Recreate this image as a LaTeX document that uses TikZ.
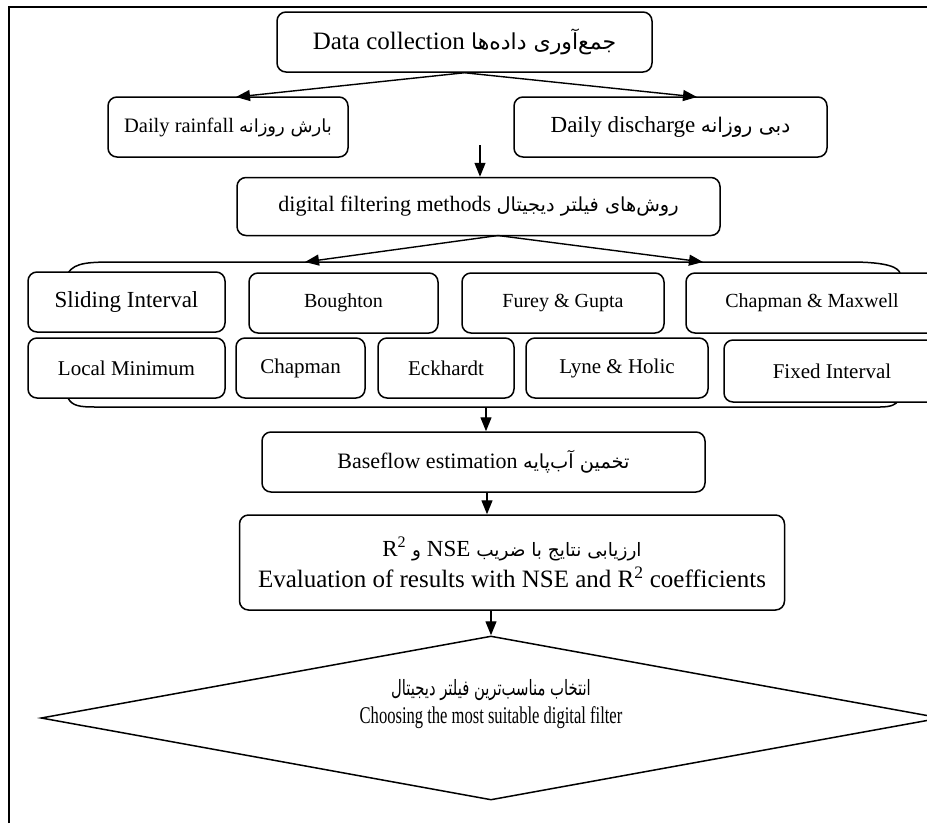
\documentclass[tikz,border=0pt]{standalone}
\usepackage{fontspec}
\usepackage{graphicx}
\setmainfont{Liberation Serif}
\newfontfamily\fa[Script=Arabic,Scale=0.88]{DejaVu Sans}
\TeXXeTstate=1
\usetikzlibrary{shapes.geometric,arrows.meta,calc}
\begin{document}
\begin{tikzpicture}[x=1pt,y=-1pt,
  box/.style={draw, line width=1.5pt, rounded corners=9pt, fill=white, inner sep=2pt, align=center},
  arr/.style={line width=1.4pt, -{Triangle[length=14pt,width=11pt]}},
  frame/.style={line width=1.8pt},
  cont/.style={line width=1.5pt},
]
\useasboundingbox (0,0) rectangle (927,823);
% frame
\draw[frame] (9,823) -- (9,7) -- (927,7);

% top boxes
\node[box, minimum width=375pt, minimum height=60pt, font=\fontsize{25}{29}\selectfont] (dc) at (464.5,42)
  {Data collection {\fa\beginR جمع‌آوری داده‌ها\endR}};
\node[box, minimum width=240pt, minimum height=60pt, font=\fontsize{20.5}{24}\selectfont] (rain) at (228,127)
  {Daily rainfall {\fa\beginR بارش روزانه\endR}};
\node[box, minimum width=313pt, minimum height=60pt, font=\fontsize{23}{27}\selectfont] (dis) at (670.5,127)
  {Daily discharge {\fa\beginR دبی روزانه\endR}};
\coordinate (raintip) at (236,97);
\coordinate (distip) at (697,97);
\draw[arr] (dc.south) -- (raintip);
\draw[arr] (dc.south) -- (distip);

\node[box, minimum width=483pt, minimum height=58pt, font=\fontsize{22}{26}\selectfont] (dig) at (478.5,206.5)
  {digital filtering methods {\fa\beginR روش‌های فیلتر دیجیتال\endR}};
\coordinate (smallstart) at (480,145);
\draw[arr] (smallstart) -- (smallstart |- dig.north);

% container
\coordinate (ctl) at (68,273);
\coordinate (ctr) at (900,273);
\coordinate (cbl) at (68,398);
\coordinate (cbr) at (898,401);
\draw[cont] (ctl) .. controls (75,262) and (90,262) .. (120,262) -- (850,262) .. controls (890,262) and (898,268) .. (ctr);
\draw[cont] (cbl) .. controls (72,406) and (80,407) .. (95,407) -- (880,407) .. controls (892,407) and (896,404) .. (cbr);

\coordinate (dsplit) at (498,235.5);
\coordinate (ltip) at (305,262);
\coordinate (rtip) at (703,262);
\draw[arr] (dsplit) -- (ltip);
\draw[arr] (dsplit) -- (rtip);

% methods row 1
\node[box, minimum width=197pt, minimum height=60pt, font=\fontsize{23}{27}\selectfont] (m1) at (126.5,302) {Sliding Interval};
\node[box, minimum width=189pt, minimum height=60pt, font=\fontsize{20}{24}\selectfont] (m2) at (343.5,303) {Boughton};
\node[box, minimum width=202pt, minimum height=60pt, font=\fontsize{20}{24}\selectfont] (m3) at (563,303) {Furey \& Gupta};
\node[box, minimum width=252pt, minimum height=60pt, font=\fontsize{20}{24}\selectfont] (m4) at (812,303) {Chapman \& Maxwell};
% methods row 2
\node[box, minimum width=197pt, minimum height=60pt, font=\fontsize{21}{25}\selectfont] (m5) at (126.5,368) {Local Minimum};
\node[box, minimum width=129pt, minimum height=60pt, font=\fontsize{21}{25}\selectfont] (m6) at (300.5,368) {Chapman};
\node[box, minimum width=136pt, minimum height=60pt, font=\fontsize{21}{25}\selectfont] (m7) at (446,368) {Eckhardt};
\node[box, minimum width=182pt, minimum height=60pt, font=\fontsize{21}{25}\selectfont] (m8) at (617,368) {Lyne \& Holic};
\node[box, minimum width=216pt, minimum height=62pt, font=\fontsize{21}{25}\selectfont] (m9) at (832,371) {Fixed Interval};

% baseflow
\node[box, minimum width=443pt, minimum height=60pt, font=\fontsize{22}{26}\selectfont] (base) at (483.5,462)
  {Baseflow estimation {\fa\beginR تخمین آب‌پایه\endR}};
\coordinate (cbot) at (486,407);
\draw[arr] (cbot) -- (cbot |- base.north);

% evaluation
\node[box, minimum width=545pt, minimum height=95pt, font=\fontsize{25}{31}\selectfont] (eval) at (512,562.5)
  {{\fontsize{21}{31}\selectfont\fa\beginR ارزیابی نتایج با ضریب \beginL{\fontsize{23}{31}\selectfont\rmfamily NSE}\endL{} و \beginL{\fontsize{23}{31}\selectfont\rmfamily R\textsuperscript{2}}\endL\endR}\\
   Evaluation of results with NSE and R\textsuperscript{2} coefficients};
\coordinate (bsouth) at (487,492);
\draw[arr] (bsouth) -- (bsouth |- eval.north);

% decision
\node[diamond, draw, line width=1.5pt, minimum width=900pt, minimum height=164pt, inner sep=0pt, aspect=5.5] (dec) at (491,718) {};
\node[align=center, font=\fontsize{24}{28}\selectfont] (dectxt) at (491,704)
  {\scalebox{0.7}[1]{\fontsize{24}{28}\selectfont\fa\beginR انتخاب مناسب‌ترین فیلتر دیجیتال\endR}\\
   \scalebox{0.69}[1]{Choosing the most suitable digital filter}};
\coordinate (esouth) at (491,610);
\draw[arr] (esouth) -- (dec.north);
\end{tikzpicture}
\end{document}
